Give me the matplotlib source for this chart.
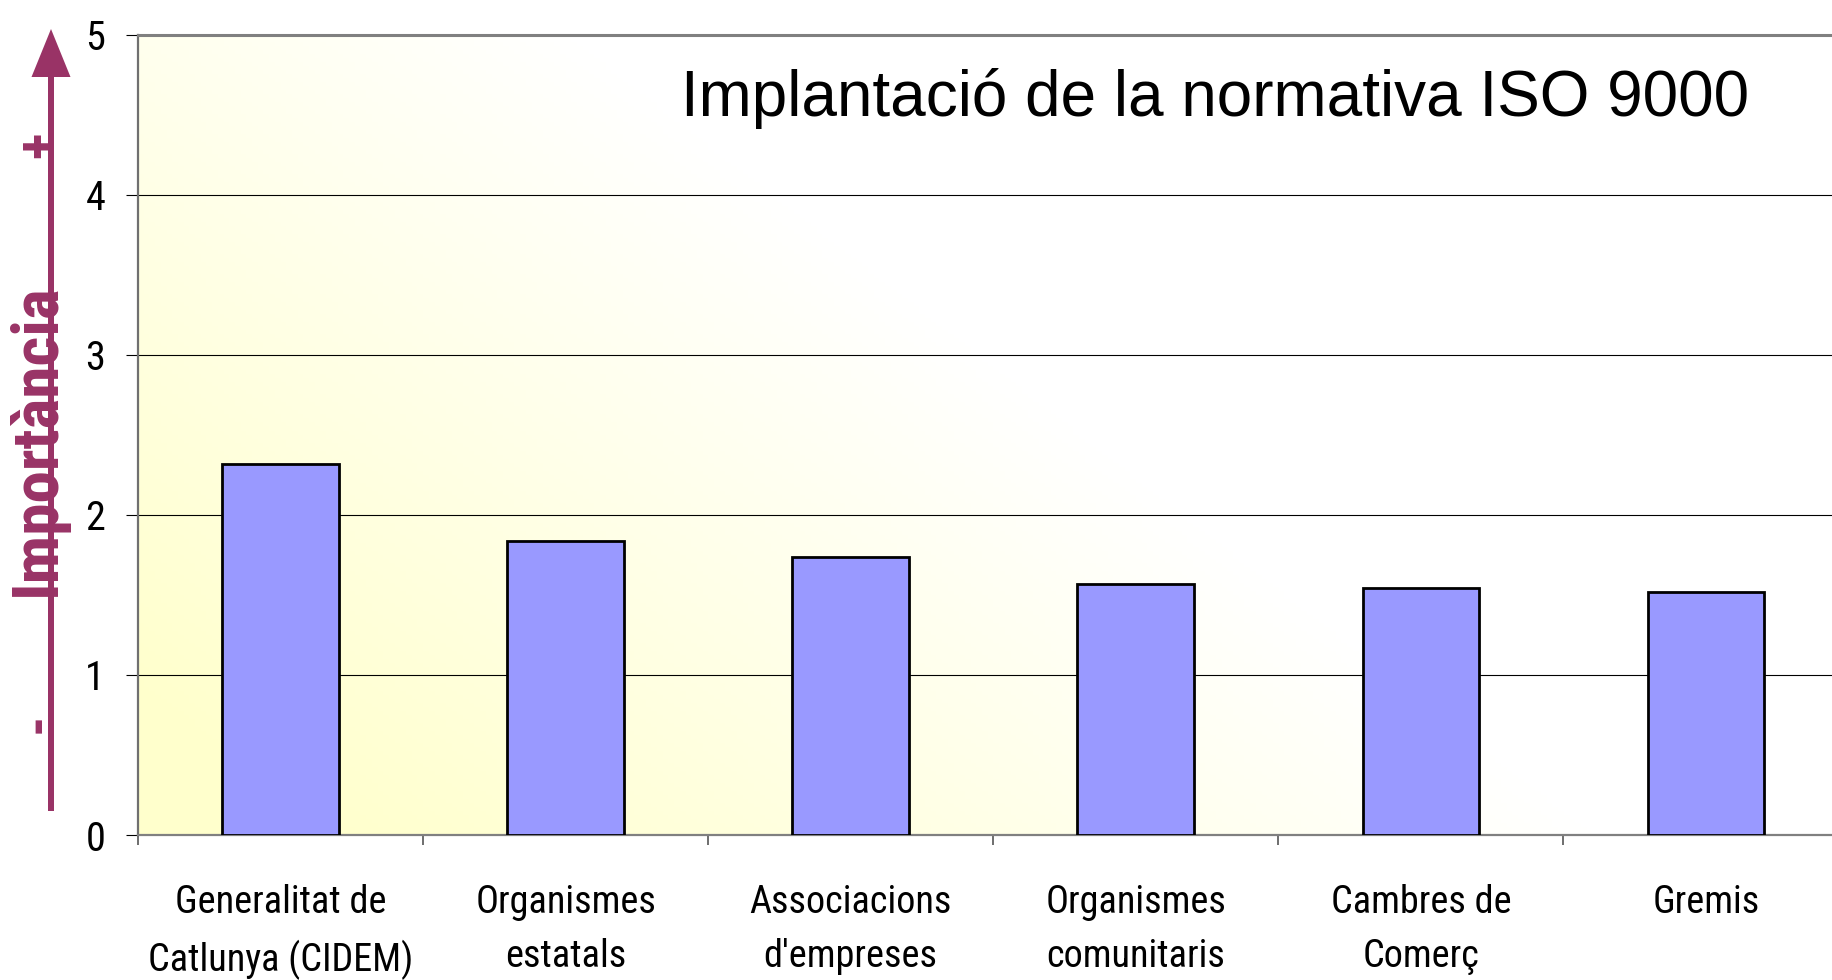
import numpy as np
import matplotlib
matplotlib.use("Agg")
import matplotlib.pyplot as plt
from matplotlib import font_manager
from matplotlib.patches import FancyArrow

categories = ["Generalitat de\nCatlunya (CIDEM)", "Organismes\nestatals",
              "Associacions\nd'empreses", "Organismes\ncomunitaris",
              "Cambres de\nComerç", "Gremis"]
values = [2.32, 1.84, 1.74, 1.57, 1.545, 1.52]
yticks = [0, 1, 2, 3, 4, 5]
title = "Implantació de la normativa ISO 9000"

PLUM = "#993366"


def narrow_font(bold=False):
    # the original uses Arial Narrow; pick the closest condensed face we have
    fonts = font_manager.fontManager.ttflist
    want_w = 700 if bold else 400
    prefs = ["Liberation Sans Narrow", "Roboto Condensed", "Open Sans Condensed",
             "Noto Sans Condensed", "DejaVu Sans Condensed"]
    for p in prefs:
        for f in fonts:
            if f.style != "normal":
                continue
            if (f.name == p or p.replace(" ", "") in f.fname.replace(" ", "")) \
                    and (f.weight == want_w or (bold and f.weight >= 600)
                         or (not bold and f.weight in (400, "normal", "regular"))):
                return font_manager.FontProperties(fname=f.fname)
    for f in fonts:
        if ("Condensed" in f.fname or "Narrow" in f.fname) and f.style == "normal":
            isbold = "Bold" in f.fname
            if isbold == bold and "Oblique" not in f.fname and "Italic" not in f.fname:
                return font_manager.FontProperties(fname=f.fname)
    return font_manager.FontProperties(family="Liberation Sans",
                                       weight="bold" if bold else "normal")


W, H = 1832, 980
fig = plt.figure(figsize=(W / 100, H / 100), dpi=100)
# plot area runs past the right edge, like the original
ax = fig.add_axes([138 / W, 1 - 835 / H, 1710.6 / W, 800 / H])

# yellow -> white diagonal background
gx, gy = np.meshgrid(np.linspace(0, 1, 300), np.linspace(0, 1, 200))
t = np.clip((0.85 - gx - 0.6 * gy) / 0.75, 0, 1)
yellow = np.array([1.0, 1.0, 0.8])
img = np.ones((200, 300, 3)) * (1 - t[..., None]) + yellow * t[..., None]
ax.imshow(img, extent=(0, 1, 0, 1), transform=ax.transAxes, aspect="auto",
          origin="lower", zorder=0)

x = np.arange(len(categories))
ax.bar(x, values, width=0.41, color="#9999FF", edgecolor="black",
       linewidth=2, zorder=3)

ax.set_xlim(-0.5, len(categories) - 0.5)
ax.set_ylim(0, 5)
ax.set_yticks(yticks)
ax.yaxis.grid(True, color="black", linewidth=0.8)
ax.set_axisbelow(True)

fp = narrow_font()
fp.set_size(29)
fpx = fp.copy()
fpx.set_size(27.5)
fpb = narrow_font(bold=True)
fpb.set_size(47)
fps = fpb.copy()
fps.set_size(40)

ax.set_xticks(x)
ax.set_xticklabels(categories, fontproperties=fpx, linespacing=1.6)
ax.set_xticks(np.arange(len(categories) + 1) - 0.5, minor=True)
ax.tick_params(axis="x", which="major", length=0, pad=35)
ax.tick_params(axis="x", which="minor", length=7, width=1.2, color="#555555")
ax.tick_params(axis="y", length=8.6, width=0.8, pad=15)
ax.set_yticklabels([str(v) for v in yticks], fontproperties=fp)

ax.spines["right"].set_visible(False)
ax.spines["top"].set_color("#808080")
ax.spines["top"].set_linewidth(2.2)
ax.spines["left"].set_color("#707070")
ax.spines["left"].set_linewidth(1.6)
ax.spines["bottom"].set_color("#808080")
ax.spines["bottom"].set_linewidth(1.6)

fig.text(681 / W, 1 - 116 / H, title, family=["Liberation Sans", "DejaVu Sans"],
         fontsize=46, va="baseline", ha="left")

# "Importància" arrow on the left, in pixel coordinates
ov = fig.add_axes([0, 0, 1, 1], facecolor="none")
ov.set_xlim(0, W)
ov.set_ylim(H, 0)
ov.axis("off")
ov.add_patch(FancyArrow(51, 811, 0, 29 - 811, width=6, head_width=39,
                        head_length=48, length_includes_head=True,
                        color=PLUM, linewidth=0))
ov.text(37, 440, "Importància", rotation=90, ha="center", va="center",
        fontproperties=fpb, color=PLUM)
ov.text(40, 145, "+", rotation=90, ha="center", va="center",
        fontproperties=fps, color=PLUM)
ov.text(39, 723, "-", rotation=90, ha="center", va="center",
        fontproperties=fps, color=PLUM)

fig.savefig("out.png", dpi=100)
